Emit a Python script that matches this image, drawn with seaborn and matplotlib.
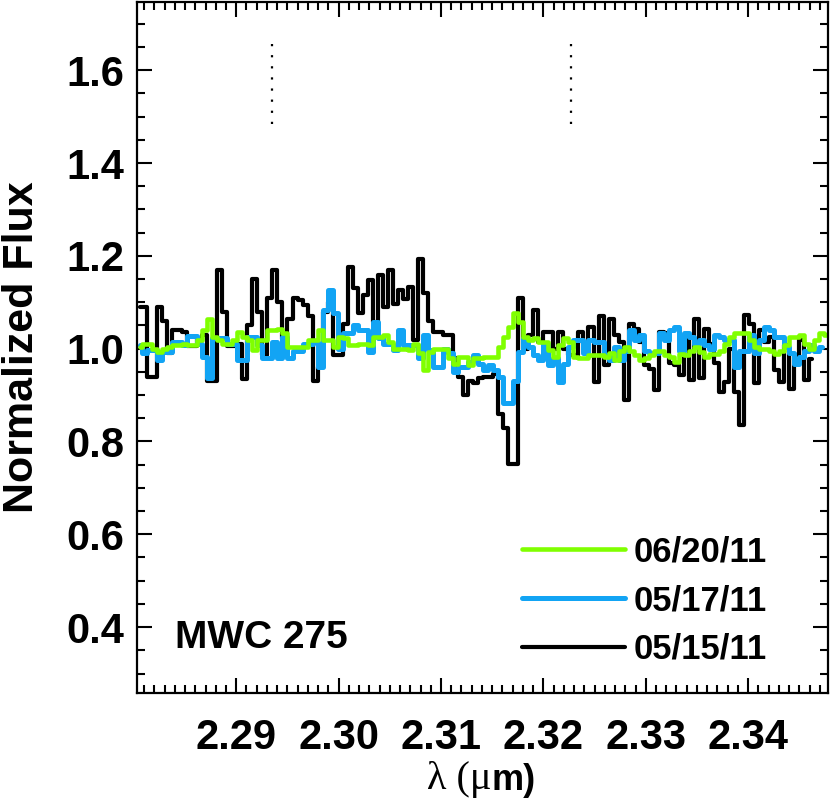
import numpy as np
import pandas as pd
import matplotlib
matplotlib.use('Agg')
import matplotlib.pyplot as plt
import seaborn as sns
from matplotlib.ticker import MultipleLocator

sns.set_style('ticks')
plt.rcParams['font.family'] = ['Liberation Sans', 'DejaVu Sans']
plt.rcParams['font.weight'] = 'bold'
for key in ['text.color', 'axes.labelcolor', 'xtick.color', 'ytick.color', 'axes.edgecolor']:
    plt.rcParams[key] = 'black'

# wavelength sampling (micron): centre of first pixel and pixel width
wave_start = 2.28055
wave_step = 0.00049

# normalized flux
flux_0515 = [1.09, 1.09, 0.94, 0.94, 1.09, 1.06, 0.99, 1.04, 1.04, 1.035,
             1.005, 1.005, 1.02, 1.03, 0.93, 0.93, 1.17, 1.08, 1.005, 1.005,
             1.01, 0.935, 1.05, 1.15, 1.08, 0.986, 1.11, 1.17, 1.10, 1.02,
             1.065, 1.11, 1.105, 1.095, 1.07, 0.93, 0.96, 1.08, 1.10, 0.986,
             0.986, 1.054, 1.176, 1.13, 1.076, 1.115, 1.148, 1.058, 1.158, 1.09,
             1.17, 1.097, 1.126, 1.108, 1.133, 1.018, 1.194, 1.12, 1.06, 1.036,
             1.036, 1.03, 1.03, 0.98, 0.94, 0.90, 0.93, 0.925, 0.936, 0.94,
             0.94, 0.946, 0.86, 0.83, 0.752, 0.752, 1.11, 1.0, 1.03, 1.083,
             1.015, 1.036, 1.036, 1.0, 1.036, 1.0, 0.986, 0.986, 1.036, 1.01,
             1.047, 0.928, 1.07, 0.964, 1.065, 1.03, 1.015, 0.89, 1.054, 1.043,
             1.015, 0.964, 0.957, 0.91, 1.036, 1.033, 0.97, 0.964, 0.943, 1.018,
             0.932, 1.063, 0.936, 1.043, 1.011, 0.97, 0.907, 0.928, 1.0, 0.907,
             0.835, 1.072, 1.054, 0.925, 1.04, 1.015, 1.025, 0.954, 0.928, 1.008,
             0.914, 0.986, 1.018, 0.932, 0.978]

flux_0517 = [1.008, 0.99, 0.997, 0.997, 0.975, 0.993, 0.993, 1.015, 1.015, 1.008,
             1.027, 1.027, 1.011, 0.982, 0.936, 1.022, 1.022, 1.022, 1.011, 1.011,
             0.975, 0.975, 1.025, 1.025, 1.008, 0.98, 0.98, 1.015, 0.98, 1.025,
             0.98, 0.995, 0.995, 1.011, 1.011, 1.015, 0.96, 1.083, 1.126, 1.076,
             1.0, 1.033, 1.033, 1.05, 1.04, 1.04, 0.993, 1.058, 1.022, 1.011,
             1.011, 0.997, 1.04, 1.008, 1.008, 1.008, 0.979, 1.03, 0.997, 0.96,
             0.96, 1.0, 0.99, 0.95, 0.96, 0.96, 0.972, 0.986, 0.968, 0.954,
             0.964, 0.954, 0.94, 0.882, 0.882, 0.93, 0.993, 1.022, 1.004, 0.986,
             0.975, 1.011, 0.964, 0.979, 0.928, 0.968, 1.004, 1.018, 1.018, 0.99,
             1.018, 1.015, 1.015, 0.986, 0.975, 1.004, 0.975, 0.996, 1.04, 1.018,
             1.029, 0.996, 0.99, 0.99, 1.033, 1.018, 1.04, 1.047, 0.996, 1.033,
             1.026, 1.011, 1.018, 1.008, 1.0, 1.029, 1.026, 1.018, 1.018, 0.96,
             0.996, 0.996, 1.029, 0.99, 1.018, 1.047, 1.04, 1.026, 1.026, 1.004,
             0.99, 0.967, 0.981, 0.996, 1.008, 0.996, 1.004]

flux_0620 = [1.004, 1.011, 1.011, 1.0, 0.993, 1.0, 1.004, 1.008, 1.008, 1.011,
             1.008, 1.008, 1.018, 1.04, 1.065, 1.025, 1.018, 1.011, 1.011, 1.018,
             1.036, 1.025, 1.018, 0.997, 1.018, 1.018, 1.04, 1.04, 1.043, 1.033,
             1.004, 1.004, 1.004, 1.004, 1.018, 1.018, 1.04, 1.018, 1.018, 1.004,
             1.025, 1.022, 1.008, 1.008, 1.011, 1.011, 1.008, 1.025, 1.025, 1.029,
             1.015, 1.0, 1.0, 1.0, 0.997, 1.011, 0.99, 0.954, 0.993, 1.0,
             1.0, 1.0, 0.979, 0.968, 0.982, 0.982, 0.964, 0.979, 0.979, 0.982,
             0.982, 0.982, 1.004, 1.025, 1.047, 1.076, 1.058, 1.025, 1.018, 1.022,
             1.015, 1.015, 0.997, 0.982, 1.008, 1.022, 1.015, 0.982, 0.979, 0.979,
             0.986, 0.986, 0.986, 0.982, 0.99, 0.975, 0.996, 1.004, 0.996, 0.986,
             0.975, 0.979, 0.986, 0.996, 0.996, 0.986, 0.982, 0.971, 0.989, 0.986,
             0.996, 1.004, 0.993, 0.982, 0.989, 0.989, 0.996, 1.011, 1.025, 1.033,
             1.033, 1.033, 1.018, 1.004, 1.0, 1.0, 0.996, 0.989, 0.996, 1.007,
             1.025, 1.025, 1.029, 1.011, 1.0, 1.018, 1.033, 1.029]

dates = ['05/15/11', '05/17/11', '06/20/11']
fluxes = [flux_0515, flux_0517, flux_0620]
colors = ['black', '#12A4F4', '#80FF00']
widths = [3.0, 3.6, 3.3]

# CO bandhead markers
co_bandheads = [2.2935, 2.3227]
bandhead_span = [1.484, 1.662]

star = 'MWC 275'

fig = plt.figure(figsize=(8.3, 8.06), dpi=100)
ax = fig.add_axes([0.165, 0.1402, 0.8326, 0.8573])

for date, flux, col, lw in zip(dates, fluxes, colors, widths):
    df = pd.DataFrame({'wave': wave_start + wave_step * np.arange(len(flux)),
                       'flux': flux})
    sns.lineplot(data=df, x='wave', y='flux', ax=ax, color=col, linewidth=lw,
                 drawstyle='steps-mid', estimator=None, label=date)

for xb in co_bandheads:
    ax.plot([xb, xb], bandhead_span, color='black', lw=1.6,
            linestyle=(0, (1, 4)))

ax.set_xlim(2.2803, 2.3478)
ax.set_ylim(0.258, 1.747)
ax.xaxis.set_major_locator(MultipleLocator(0.01))
ax.xaxis.set_minor_locator(MultipleLocator(0.001))
ax.yaxis.set_major_locator(MultipleLocator(0.2))
ax.yaxis.set_minor_locator(MultipleLocator(0.05))
ax.xaxis.set_major_formatter(plt.FormatStrFormatter('%.2f'))
ax.yaxis.set_major_formatter(plt.FormatStrFormatter('%.1f'))
ax.tick_params(which='both', direction='in', top=True, right=True, width=1.5)
ax.tick_params(which='major', length=11, labelsize=30)
ax.tick_params(which='minor', length=6)
ax.tick_params(axis='x', which='major', pad=18)
ax.tick_params(axis='y', which='major', pad=9)
for sp in ax.spines.values():
    sp.set_linewidth(1.6)

# x label: greek part in a light serif, unit letter in bold sans
ax.set_xlabel('')
lam = ax.text(0.4197, -0.139, 'λ (μ', transform=ax.transAxes, fontsize=29,
              family=['Liberation Serif', 'DejaVu Serif'], fontweight='normal',
              ha='left', va='baseline')
ax.annotate('m)', xy=(1, 0), xycoords=lam, fontsize=26, fontweight='bold',
            ha='left', va='bottom')

ax.set_ylabel('Normalized Flux', fontsize=31, fontweight='bold')
ax.yaxis.set_label_coords(-0.138, 0.5)

ax.text(0.055, 0.065, star, transform=ax.transAxes, fontsize=28,
        fontweight='bold', va='baseline')

handles, labels = ax.get_legend_handles_labels()
ax.legend(handles[::-1], labels[::-1], loc='upper left',
          bbox_to_anchor=(0.557, 0.228), frameon=False, fontsize=25,
          handlelength=2.97, handletextpad=0.26, labelspacing=0.45,
          borderpad=0, borderaxespad=0)

fig.savefig('out.png', dpi=100)
